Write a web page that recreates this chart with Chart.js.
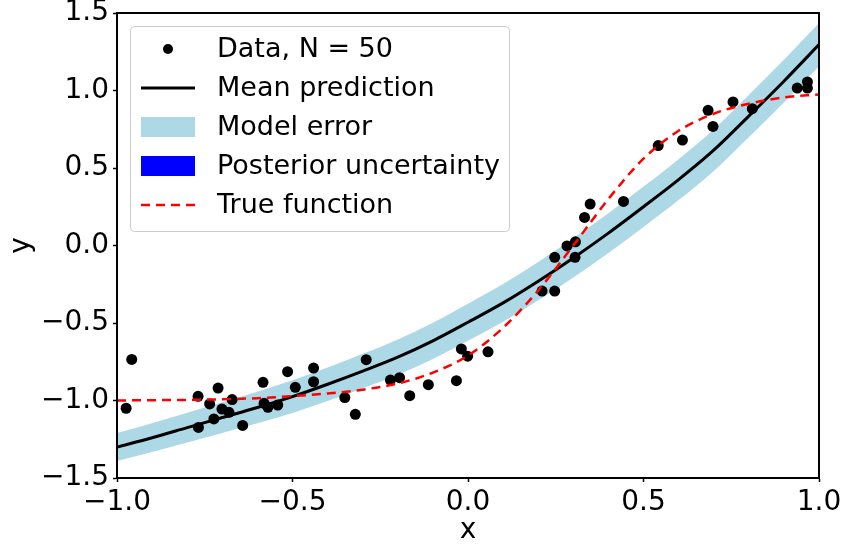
<!DOCTYPE html>
<html>
<head>
<meta charset="utf-8">
<script src="https://cdn.jsdelivr.net/npm/chart.js@4/dist/chart.umd.min.js"></script>
<style>
  html, body { margin: 0; padding: 0; background: #fff; }
  #wrap { width: 843px; height: 550px; }
</style>
</head>
<body>
<div id="wrap"><canvas id="chart" width="843" height="550"></canvas></div>
<script>
// grid for the smooth curves
const xGrid = [-1.0, -0.9, -0.8, -0.7, -0.6, -0.5, -0.4, -0.3, -0.2, -0.1, 0.0,
  0.1, 0.2, 0.3, 0.4, 0.5, 0.6, 0.7, 0.8, 0.9, 1.0];

const meanPred = [-1.30, -1.24, -1.175, -1.11, -1.045, -0.975, -0.895, -0.81, -0.72, -0.615, -0.495,
  -0.37, -0.23, -0.08, 0.08, 0.25, 0.425, 0.615, 0.835, 1.06, 1.296];

const modelErrUpper = [-1.21, -1.147, -1.079, -1.011, -0.943, -0.87, -0.787, -0.699, -0.606, -0.498, -0.375,
  -0.248, -0.106, 0.046, 0.208, 0.38, 0.557, 0.749, 0.971, 1.198, 1.436];

const modelErrLower = [-1.39, -1.333, -1.271, -1.209, -1.147, -1.08, -1.003, -0.921, -0.834, -0.732, -0.615,
  -0.492, -0.354, -0.206, -0.048, 0.12, 0.293, 0.481, 0.699, 0.922, 1.156];

const trueFn = [-1.0, -0.998, -0.996, -0.992, -0.985, -0.972, -0.955, -0.93, -0.89, -0.82, -0.71,
  -0.53, -0.29, 0.0, 0.3, 0.56, 0.74, 0.85, 0.915, 0.955, 0.975];

const dataX = [-0.974, -0.958, -0.769, -0.768, -0.736, -0.712, -0.724, -0.701, -0.681, -0.672,
  -0.642, -0.584, -0.581, -0.570, -0.542, -0.514, -0.492, -0.440, -0.440, -0.351,
  -0.321, -0.290, -0.221, -0.195, -0.166, -0.113, -0.033, -0.019, -0.001, 0.057,
  0.211, 0.247, 0.247, 0.305, 0.282, 0.306, 0.332, 0.348, 0.443, 0.542,
  0.611, 0.684, 0.698, 0.755, 0.810, 0.938, 0.967, 0.967];
const dataY = [-1.05, -0.735, -0.973, -1.174, -1.022, -0.92, -1.119, -1.055, -1.076, -0.994,
  -1.161, -0.883, -1.018, -1.044, -1.029, -0.814, -0.915, -0.791, -0.879, -0.981,
  -1.089, -0.737, -0.868, -0.853, -0.969, -0.898, -0.872, -0.667, -0.714, -0.686,
  -0.294, -0.294, -0.076, -0.076, -0.003, 0.024, 0.181, 0.267, 0.284, 0.645,
  0.680, 0.872, 0.768, 0.926, 0.883, 1.016, 1.055, 1.016];

const xTicks = [-1.0, -0.5, 0.0, 0.5, 1.0];
const yTicks = [-1.5, -1.0, -0.5, 0.0, 0.5, 1.0, 1.5];

const FONT = 'DejaVu Sans';

function pts(xs, ys) {
  return xs.map((x, i) => ({ x, y: ys[i] }));
}

function tickLabel(v) {
  return v.toFixed(1).replace('-', '\u2212');
}

// frame + legend, drawn like matplotlib
const framePlugin = {
  id: 'frame',
  afterDatasetsDraw(chart) {
    const { ctx, chartArea: a } = chart;
    ctx.save();
    ctx.strokeStyle = '#000';
    ctx.lineWidth = 2;
    ctx.strokeRect(a.left, a.top, a.right - a.left, a.bottom - a.top);
    ctx.restore();
  },
  afterDraw(chart) {
    const ctx = chart.ctx;
    const ds = chart.data.datasets;
    const bx = 130, by = 26, bw = 379, bh = 205;
    ctx.save();
    ctx.fillStyle = 'rgba(255,255,255,0.8)';
    ctx.strokeStyle = '#cccccc';
    ctx.lineWidth = 1;
    ctx.beginPath();
    ctx.roundRect(bx + 0.5, by + 0.5, bw, bh, 4);
    ctx.fill();
    ctx.stroke();

    const order = ['Data, N = 50', 'Mean prediction', 'Model error', 'Posterior uncertainty', 'True function'];
    ctx.font = '27px "' + FONT + '"';
    ctx.textBaseline = 'middle';
    order.forEach((label, i) => {
      const d = ds.find(s => s.label === label);
      const cy = 49 + i * 39;
      const x0 = 141, x1 = 195;
      if (d.legendKind === 'dot') {
        ctx.fillStyle = d.backgroundColor;
        ctx.beginPath();
        ctx.arc((x0 + x1) / 2, cy, 5, 0, Math.PI * 2);
        ctx.fill();
      } else if (d.legendKind === 'rect') {
        ctx.fillStyle = d.backgroundColor;
        ctx.fillRect(x0, cy - 10, x1 - x0, 20);
      } else {
        ctx.strokeStyle = d.borderColor;
        ctx.lineWidth = d.borderWidth;
        ctx.setLineDash(d.borderDash || []);
        ctx.beginPath();
        ctx.moveTo(x0, cy);
        ctx.lineTo(x1, cy);
        ctx.stroke();
        ctx.setLineDash([]);
      }
      ctx.fillStyle = '#000';
      ctx.fillText(label, 217, cy + 1);
    });
    ctx.restore();
  }
};

const datasets = [
  {
    label: 'True function', type: 'line', legendKind: 'line',
    data: pts(xGrid, trueFn),
    borderColor: '#ff0000', borderWidth: 2.5, borderDash: [9, 6],
    pointRadius: 0, fill: false, cubicInterpolationMode: 'monotone'
  },
  {
    label: 'Data, N = 50', type: 'scatter', legendKind: 'dot',
    data: pts(dataX, dataY),
    backgroundColor: '#000', borderColor: '#000', pointRadius: 5.5, pointBorderWidth: 0
  },
  {
    label: 'Mean prediction', type: 'line', legendKind: 'line',
    data: pts(xGrid, meanPred),
    borderColor: '#000', borderWidth: 3,
    pointRadius: 0, fill: false, cubicInterpolationMode: 'monotone'
  },
  {
    label: 'Posterior uncertainty', type: 'line', legendKind: 'rect',
    data: [],
    backgroundColor: '#0000ff', borderWidth: 0, pointRadius: 0
  },
  {
    label: 'Model error', type: 'line', legendKind: 'rect',
    data: pts(xGrid, modelErrUpper),
    borderWidth: 0, borderColor: 'rgba(0,0,0,0)', backgroundColor: '#add8e6',
    pointRadius: 0, fill: '+1', cubicInterpolationMode: 'monotone'
  },
  {
    label: 'Model error lower', type: 'line', legendKind: 'none',
    data: pts(xGrid, modelErrLower),
    borderWidth: 0, borderColor: 'rgba(0,0,0,0)',
    pointRadius: 0, fill: false, cubicInterpolationMode: 'monotone'
  }
];

const tickFont = { family: FONT, size: 28 };

new Chart(document.getElementById('chart'), {
  type: 'scatter',
  data: { datasets },
  options: {
    responsive: false,
    animation: false,
    events: [],
    layout: { padding: { top: 13, right: 24, left: 0, bottom: 0 } },
    plugins: { legend: { display: false }, tooltip: { enabled: false } },
    scales: {
      x: {
        type: 'linear', min: -1, max: 1,
        afterBuildTicks: s => { s.ticks = xTicks.map(v => ({ value: v })); },
        afterFit: s => { s.height = 72; s.paddingLeft = 0; s.paddingRight = 0; },
        grid: { drawOnChartArea: false, drawTicks: true, tickLength: 4, tickWidth: 1.5, color: '#000' },
        border: { display: true, color: '#000', width: 2 },
        ticks: { color: '#000', font: tickFont, padding: 4, maxRotation: 0, callback: v => tickLabel(v) },
        title: { display: true, text: 'x', color: '#000', font: { family: FONT, size: 28 }, padding: { top: 0, bottom: 2 } }
      },
      y: {
        type: 'linear', min: -1.5, max: 1.5,
        afterBuildTicks: s => { s.ticks = yTicks.map(v => ({ value: v })); },
        afterFit: s => { s.width = 117; s.paddingTop = 0; s.paddingBottom = 0; },
        grid: { drawOnChartArea: false, drawTicks: true, tickLength: 4, tickWidth: 1.5, color: '#000' },
        border: { display: true, color: '#000', width: 2 },
        ticks: { color: '#000', font: tickFont, padding: 4, callback: v => tickLabel(v) },
        title: { display: true, text: 'y', color: '#000', font: { family: FONT, size: 28 }, padding: { top: 5, bottom: 0 } }
      }
    }
  },
  plugins: [framePlugin]
});
</script>
</body>
</html>
